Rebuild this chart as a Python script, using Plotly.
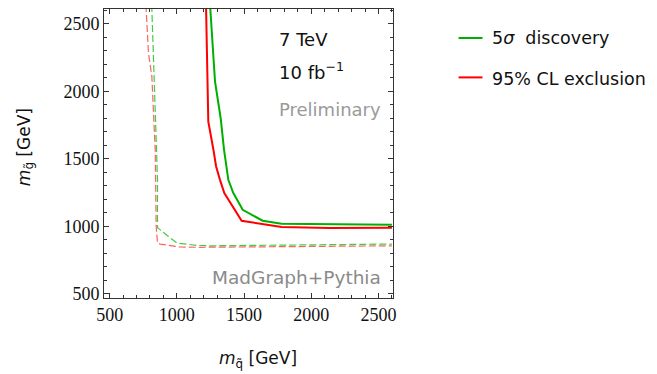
import plotly.graph_objects as go

# 5 sigma discovery (solid green)
disc_x = [1247, 1284, 1326, 1351, 1383, 1420, 1490, 1638, 1779, 2150, 2600]
disc_y = [2640, 2073, 1801, 1567, 1344, 1246, 1122, 1041, 1019, 1013, 1011]
# 95% CL exclusion (solid red)
excl_x = [1217, 1234, 1272, 1292, 1321, 1353, 1482, 1779, 2137, 2600]
excl_y = [2640, 1776, 1567, 1443, 1344, 1246, 1041, 994, 987, 989]
# dashed green
disc_d_x = [813, 826, 839, 851, 856, 856, 896, 938, 1000, 1148, 1250, 1800, 2600]
disc_d_y = [2640, 2283, 1813, 1567, 1344, 990, 961, 924, 876, 858, 855, 860, 868]
# dashed red
excl_d_x = [770, 789, 814, 826, 839, 846, 856, 876, 1024, 1173, 1500, 2000, 2600]
excl_d_y = [2640, 2283, 2110, 1813, 1567, 1000, 876, 868, 846, 844, 846, 850, 855]

x_ticks = [500, 1000, 1500, 2000, 2500]
y_ticks = [500, 1000, 1500, 2000, 2500]

GREEN = "rgb(0,175,0)"
RED = "rgb(255,0,0)"
GREEN_D = "rgba(0,190,0,0.75)"
RED_D = "rgba(255,30,30,0.7)"

fig = go.Figure()
fig.add_trace(go.Scatter(x=disc_d_x, y=disc_d_y, mode="lines",
                         line=dict(color=GREEN_D, width=1.2, dash="7px,3px"), showlegend=False))
fig.add_trace(go.Scatter(x=excl_d_x, y=excl_d_y, mode="lines",
                         line=dict(color=RED_D, width=1.2, dash="7px,3px"), showlegend=False))
fig.add_trace(go.Scatter(x=disc_x, y=disc_y, mode="lines",
                         line=dict(color=GREEN, width=2), showlegend=False))
fig.add_trace(go.Scatter(x=excl_x, y=excl_y, mode="lines",
                         line=dict(color=RED, width=2), showlegend=False))

# page pixel geometry (the page body adds an 8px offset)
OFF = 8
L, R, T, B = 103.7, 393.3, 9.3, 298.3
W, H = 657, 374
pw, ph = R - L, B - T

def px(xp):
    return (xp - L) / pw

def py(yp):
    return 1 - (yp - T) / ph

SANS = "DejaVu Sans, sans-serif"
SERIF = "Liberation Serif, Times New Roman, serif"

axis_common = dict(
    showline=True, linecolor="#333", linewidth=1, mirror="ticks",
    ticks="inside", ticklen=5, tickcolor="#333", tickwidth=1,
    showgrid=False, zeroline=False,
    tickfont=dict(family=SERIF, size=18, color="#111"),
    minor=dict(ticks="inside", ticklen=3, tickcolor="#333", dtick=100, showgrid=False),
)
fig.update_xaxes(range=[458, 2608], tickvals=x_ticks, **axis_common)
fig.update_yaxes(range=[468, 2611], tickvals=y_ticks, **axis_common)

ann = []
ann.append(dict(text="7 TeV", x=px(277), y=py(40), xanchor="left", yanchor="middle",
                font=dict(family=SANS, size=18, color="#111")))
ann.append(dict(text="10 fb<sup>−1</sup>", x=px(277), y=py(71.5), xanchor="left", yanchor="middle",
                font=dict(family=SANS, size=18, color="#111")))
ann.append(dict(text="Preliminary", x=px(277), y=py(109.5), xanchor="left", yanchor="middle",
                font=dict(family=SANS, size=18, color="#9a9a9a")))
ann.append(dict(text="MadGraph+Pythia", x=px(383), y=py(277.5), xanchor="right", yanchor="middle",
                font=dict(family=SANS, size=18.5, color="#8a8a8a")))
# legend
ann.append(dict(text="5<i>σ</i>\u00a0 discovery", x=px(491), y=py(38.5), xanchor="left", yanchor="middle",
                font=dict(family=SANS, size=17.5, color="#111")))
ann.append(dict(text="95% CL exclusion", x=px(491), y=py(79.5), xanchor="left", yanchor="middle",
                font=dict(family=SANS, size=17.5, color="#111")))
# axis titles
ann.append(dict(text="<i>m</i><sub>q̃</sub> [GeV]", x=px(258), y=py(360), xanchor="center", yanchor="middle",
                font=dict(family=SANS, size=17, color="#111")))
ann.append(dict(text="<i>m</i><sub>g̃</sub> [GeV]", x=px(25), y=py(147), xanchor="center", yanchor="middle",
                textangle=-90, font=dict(family=SANS, size=17, color="#111")))
for a in ann:
    a.update(xref="paper", yref="paper", showarrow=False)

shapes = [
    dict(type="line", xref="paper", yref="paper", x0=px(459), x1=px(483), y0=py(38.3), y1=py(38.3),
         line=dict(color=GREEN, width=2)),
    dict(type="line", xref="paper", yref="paper", x0=px(459), x1=px(483), y0=py(77.7), y1=py(77.7),
         line=dict(color=RED, width=2)),
]

fig.update_layout(
    width=W - OFF, height=H - OFF,
    margin=dict(l=L - OFF, r=W - R, t=T - OFF, b=H - B, autoexpand=False),
    paper_bgcolor="white", plot_bgcolor="white",
    showlegend=False,
    annotations=ann, shapes=shapes,
)
fig.write_html("out.html")
